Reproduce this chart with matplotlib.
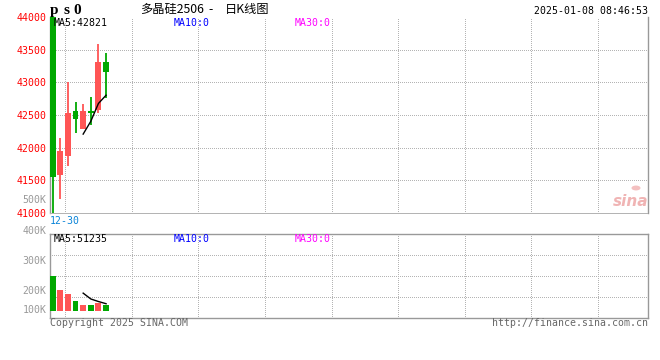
import numpy as np
import matplotlib
matplotlib.use("Agg")
import matplotlib.pyplot as plt
import matplotlib.transforms as mtransforms

plt.rcParams["lines.scale_dashes"] = False

# daily K data
opens = [44000, 41586, 41872, 42561, 42286, 42561, 42576, 43316]
closes = [41555, 41949, 42535, 42439, 42561, 42535, 43316, 43163]
highs = [44000, 42152, 43010, 42704, 42668, 42780, 43587, 43454]
lows = [41000, 41210, 41724, 42224, 42286, 42347, 42535, 42756]
volumes = [255000, 151000, 122000, 71000, 42000, 42000, 58000, 42000]
first_date = "12-30"

price_ticks = [41000, 41500, 42000, 42500, 43000, 43500, 44000]
vol_labels = ["500K", "400K", "300K", "200K", "100K"]
vol_label_pos = [1.41, 1.04, 0.685, 0.326, 0.096]  # axes fraction of volume panel

title_code = "ps0"
title_name = ["多晶硅2506", "-", "日K线图"]
timestamp = "2025-01-08 08:46:53"
price_ma = ["MA5:42821", "MA10:0", "MA30:0"]
vol_ma = ["MA5:51235", "MA10:0", "MA30:0"]

RED = "#ff5555"
GREEN = "#00a800"
GRID = "#b4b4b4"
SPINE = "#999999"
MONO = "DejaVu Sans Mono"
FS = 7.1
DOT = dict(color=GRID, lw=0.72, ls=(0, (0.72, 1.44)), antialiased=False,
           zorder=1)

opens = np.array(opens)
closes = np.array(closes)
highs = np.array(highs)
lows = np.array(lows)
volumes = np.array(volumes)
n = len(opens)
idx = np.arange(n)
up = closes >= opens
colors = np.where(up, RED, GREEN)

ma5 = np.convolve(closes, np.ones(5) / 5, mode="valid")
vma5 = np.convolve(volumes, np.ones(5) / 5, mode="valid")

W, H = 660, 360
fig = plt.figure(figsize=(6.6, 3.6), dpi=100)
fig.patch.set_facecolor("white")


def box(x0, y0, x1, y1):
    return [x0 / W, 1 - y1 / H, (x1 - x0) / W, (y1 - y0) / H]


ax = fig.add_axes(box(50, 17, 648, 213))
axv = fig.add_axes(box(50, 234.3, 648, 318))

step = 7.64
xlim = (-(52.6 - 50) / step, (648 - 52.6) / step)
vgrid = [(px - 52.6) / step for px in [65, 132, 198, 265, 332, 398, 465, 531, 598]]

# price panel
ax.set_xlim(xlim)
ax.set_ylim(41000, 44000)
bw = 0.78
for i in idx:
    lo, hi = sorted([opens[i], closes[i]])
    hi = max(hi, lo + 20)
    ax.vlines(i, lows[i], highs[i], color=colors[i], lw=1.3, zorder=3)
    ax.bar(i, hi - lo, bottom=lo, width=bw, color=colors[i], lw=0, zorder=4)
ax.plot(idx[4:], ma5, color="black", lw=1, zorder=5)

for y in price_ticks[1:-1]:
    ax.axhline(y, **DOT)
for x in vgrid:
    ax.axvline(x, **DOT)

ax.set_yticks(price_ticks)
ax.set_yticklabels([str(t) for t in price_ticks], color="#ff0000",
                   fontfamily=MONO, fontsize=FS)
ax.tick_params(axis="y", length=0, pad=2.2)
ax.set_xticks([])
ax.spines["top"].set_visible(False)
for s in ["left", "right"]:
    ax.spines[s].set_color(SPINE)
    ax.spines[s].set_linewidth(1)
ax.spines["bottom"].set_color(GRID)
ax.spines["bottom"].set_linestyle((0, (0.72, 1.44)))
ax.spines["bottom"].set_linewidth(0.72)
ax.spines["bottom"].set_antialiased(False)

# volume panel
vpx = 7300
axv.set_xlim(xlim)
axv.set_ylim(-(318 - 310.7) * vpx, (310.7 - 234.3) * vpx)
axv.bar(idx, volumes, width=bw, color=colors, lw=0, zorder=3)
axv.plot(idx[4:], vma5, color="black", lw=1, zorder=5)
lo_v, hi_v = axv.get_ylim()
for k in range(1, 4):
    axv.axhline(lo_v + (hi_v - lo_v) * k / 4, **DOT)
for x in vgrid:
    axv.axvline(x, **DOT)
axv.set_xticks([])
axv.set_yticks([])
for s in axv.spines.values():
    s.set_color(SPINE)
    s.set_linewidth(1)

trans = mtransforms.blended_transform_factory(fig.transFigure, axv.transAxes)
for lab, pos in zip(vol_labels, vol_label_pos):
    fig.text(46.5 / W, pos, lab, transform=trans, ha="right", va="center",
             color="#999999", fontfamily=MONO, fontsize=FS)


def px_text(x, y, s, **kw):
    kw.setdefault("fontfamily", MONO)
    kw.setdefault("fontsize", FS)
    kw.setdefault("va", "center")
    fig.text(x / W, 1 - y / H, s, **kw)


# header
for ch, x in zip(title_code, [54, 66, 77.5]):
    px_text(x, 10.5, ch, ha="center", fontfamily="Liberation Serif",
            fontweight="bold", fontsize=11, color="black")
for s, x in zip(title_name, [140, 208, 225]):
    px_text(x, 10, s, fontfamily=["Noto Sans CJK SC", "DejaVu Sans"],
            fontsize=8.8, color="black")
px_text(648, 11, timestamp, ha="right", color="black")

# MA labels
for s, x, c in zip(price_ma, [54, 174, 295], ["black", "#0000ff", "#ff00ff"]):
    px_text(x, 23.5, s, color=c)
for s, x, c in zip(vol_ma, [54, 174, 295], ["black", "#0000ff", "#ff00ff"]):
    px_text(x, 238.5, s, color=c)

px_text(50, 221, first_date, color="#0a84d8")
px_text(50, 323.5, "Copyright 2025 SINA.COM", color="#666666")
px_text(648, 323.5, "http://finance.sina.com.cn", ha="right", color="#666666")

# faint sina mark
px_text(648, 202, "sina", ha="right", fontfamily="DejaVu Sans",
        fontsize=11, fontweight="bold", style="italic", color="#f0b4b4")
fig.patches.append(plt.Circle((636 / W, 1 - 188 / H), 4.5 / W,
                              transform=fig.transFigure, color="#f4c0c0",
                              lw=0))

fig.savefig("out.png", dpi=100)
